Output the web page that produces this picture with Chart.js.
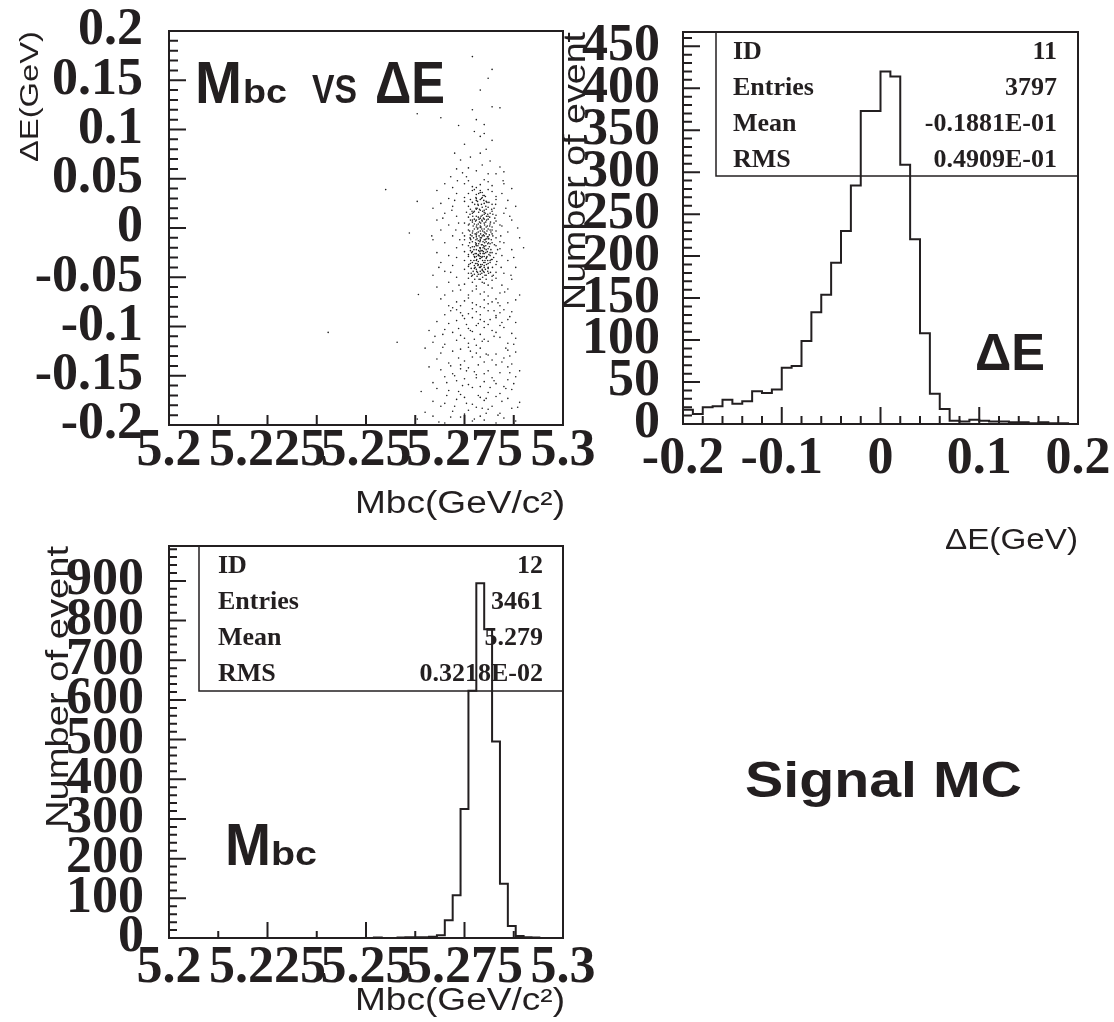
<!DOCTYPE html>
<html><head><meta charset="utf-8">
<script src="https://cdn.jsdelivr.net/npm/chart.js@4.4.1/dist/chart.umd.min.js"></script>
<style>
html,body{margin:0;padding:0;background:#fff;}
body{width:1114px;height:1022px;position:relative;overflow:hidden;}
canvas{position:absolute;left:0;top:0;}
</style></head><body>
<canvas id="cA" width="1114" height="1022"></canvas>
<canvas id="cB" width="1114" height="1022"></canvas>
<canvas id="cC" width="1114" height="1022"></canvas>
<script>
// ---------- DATA ----------
// Scatter: pairs of [Mbc offset from 5.2 GeV in MeV, DeltaE in MeV]
const scatterPairs = [
 // upper sparse region
 77,174, 82,161, 81,152, 84,122, 77,120, 82,123, 63,116, 69,112, 73.5,104, 78,110, 80,96, 79,93, 82,89,
 72.5,76, 74,69, 79,76, 81.5,68, 76,61, 84,62, 71.5,52, 75,85, 80.5,80, 78,58, 83,55, 74.5,56, 77.5,98,
 79.5,64, 81,55, 76.5,72, 73,60, 85,57, 79,140, 80,105, 75.5,52,
 // left halo
 70,45, 68,38, 72,41, 71,30, 69,25, 73,35, 67,20, 72,22, 70,15, 68,8, 73,12, 71,3, 69,-2, 72,-8, 67,-12,
 70,-15, 73,-20, 68,-25, 71,-28, 69,-35, 72,-38, 70,-44, 67,-48, 73,-50, 71,-55, 68,-60, 72,-64, 70,-68,
 73.5,5, 73,-30, 72.5,28, 71.5,-45, 69.5,10, 73.8,-12, 73.2,48, 68.5,-40, 73.6,-58, 72.8,-2, 71.8,18,
 // right halo
 85,45, 87,40, 84.5,35, 86,28, 88,22, 85,15, 87,8, 84.5,2, 86,-4, 89,-10, 85,-15, 87,-22, 84.5,-28, 86,-33,
 88,-40, 85,-46, 87,-52, 84.5,-58, 86,-62, 89,-68, 85.5,20, 84.2,-8, 88.5,0, 86.5,12, 84.3,-40, 87.5,-30,
 90,-20, 84.8,48, 86.8,-48, 85.2,-65,
 // isolated
 55,39, 63,27, 61,-5, 66.7,-8, 40.4,-106, 57.9,-116, 63.3,-67.5,
 // lower tail
 76,-71, 80,-73, 73,-75, 83,-72, 78,-78, 86,-76, 71,-79, 81,-77, 75,-74, 88,-73, 79,-80, 84,-79, 77,-76, 82,-75, 74,-79, 69,-72,
 77,-82, 81,-84, 74,-86, 85,-83, 79,-88, 72,-81, 83,-89, 76,-87, 87,-85, 80,-81, 70,-88, 78,-85, 84,-86, 73,-83,
 75,-92, 80,-95, 83,-91, 71,-97, 78,-99, 86,-93, 73,-94, 81,-98, 77,-91, 88,-96, 68,-95, 84,-99, 79,-93,
 76,-102, 82,-104, 72,-106, 85,-101, 79,-108, 70,-103, 87,-107, 74,-109, 80,-101, 83,-106, 77,-105, 66,-104,
 75,-112, 81,-115, 70,-118, 84,-111, 78,-119, 73,-114, 86,-117, 80,-113, 67,-116, 88,-112, 76,-117,
 79,-122, 72,-125, 83,-128, 76,-121, 86,-124, 69,-127, 81,-129, 74,-123, 88,-126, 78,-127, 65,-122,
 77,-131, 82,-134, 71,-137, 85,-132, 74,-139, 80,-136, 68,-133, 87,-138, 79,-131, 83,-139, 75,-135,
 76,-142, 81,-145, 72,-148, 86,-141, 78,-149, 69,-144, 84,-147, 74,-143, 89,-145, 80,-148, 66,-141,
 78,-152, 73,-155, 83,-158, 70,-151, 86,-154, 76,-159, 80,-156, 67,-157, 88,-151, 75,-153, 82,-152,
 77,-162, 71,-165, 84,-168, 79,-161, 74,-169, 87,-164, 68,-163, 81,-167, 64,-166, 85,-161,
 75,-172, 80,-175, 70,-178, 86,-173, 77,-179, 83,-171, 67,-176, 73,-174, 89,-177, 79,-172,
 78,-182, 72,-186, 84,-188, 69,-181, 81,-184, 75,-189, 87,-183, 65,-187, 76,-185, 82,-181,
 74,-192, 80,-195, 70,-198, 85,-193, 77,-196, 67,-191, 83,-198, 63,-194, 79,-191, 88,-196,
 71.5,-84, 86.5,-90, 75.5,-98, 82.5,-110, 69.5,-121, 87.5,-118, 73.5,-132, 84.5,-136, 77.5,-146, 70.5,-157,
 85.5,-163, 78.5,-170, 72.5,-181, 83.5,-190, 68.5,-197, 80.5,-188, 74.5,-160, 86.5,-147, 76.5,-125, 81.5,-93,
 79.5,-115, 75.5,-178, 82.5,-155, 71.5,-140, 88.5,-182, 67.5,-110, 84.5,-96, 73.5,-102, 80.5,-128, 77.5,-194,
 85.5,-122, 70.5,-170, 78.5,-139, 83.5,-76, 74.5,-89, 81.5,-162, 76.5,-104, 87.5,-158, 72.5,-150, 79.5,-183,
 69.5,-108, 84.5,-176, 75.5,-145, 82.5,-84, 77.5,-113, 80.5,-173, 86.5,-130, 73.5,-166, 78.5,-97, 71.5,-192,
 // dense core
 76,48, 79,44, 81,47, 78,41, 82,43, 75,45, 80,49, 77,42,
 77,38, 80,33, 79,36, 75,31, 82,37, 78,34, 81,39, 76,35, 83,32, 79.5,31, 77.5,39,
 78,28, 80,25, 76,22, 79,29, 82,24, 77,26, 81,21, 75,27, 83,29, 78.5,23, 80.5,27, 79.5,21, 76.5,29, 82.5,20,
 79,18, 77,15, 81,12, 78,19, 80,14, 76,11, 82,17, 79.5,13, 77.5,17, 80.5,19, 75.5,16, 83,13, 78.5,11, 81.5,15, 79,10, 76.5,19, 80,16,
 78,8, 80,5, 79,2, 77,6, 81,9, 76,3, 82,1, 79.5,7, 78.5,4, 80.5,1, 77.5,9, 75,5, 83,7, 79,0.5, 81.5,4, 76.5,8, 78,1, 80,9, 84,3,
 79,-3, 78,-7, 80,-1, 77,-5, 81,-9, 76,-2, 82,-6, 79.5,-8, 78.5,-4, 80.5,-6, 77.5,-1, 75,-8, 83,-3, 79,-10, 81.5,-2, 76.5,-7, 78,-9, 80,-4, 74.5,-5,
 79,-12, 78,-16, 80,-19, 77,-14, 81,-11, 76,-18, 82,-15, 79.5,-17, 78.5,-13, 80.5,-14, 77.5,-19, 75,-12, 83,-18, 79,-20, 81.5,-16, 76.5,-11, 78,-18, 80,-12, 84,-14, 74.5,-17,
 78,-22, 80,-26, 79,-29, 77,-24, 81,-21, 76,-27, 82,-25, 79.5,-23, 78.5,-28, 80.5,-22, 77.5,-29, 75,-24, 83,-26, 79,-21, 81.5,-28, 76.5,-23, 78,-26, 80,-29, 84,-21,
 79,-31, 77,-35, 80,-38, 78,-33, 81,-36, 76,-39, 82,-32, 79.5,-37, 78.5,-34, 80.5,-31, 77.5,-38, 75,-33, 83,-37, 79,-40, 81.5,-33, 76.5,-36,
 78,-42, 80,-45, 77,-48, 79,-44, 81,-41, 76,-46, 82,-49, 79.5,-43, 78.5,-47, 75,-42, 83,-45, 80.5,-48, 77.5,-41,
 79,-52, 77,-55, 81,-58, 76,-51, 80,-56, 78,-59, 82,-53, 75,-57, 83,-51, 79.5,-55,
 78,-62, 80,-65, 76,-68, 82,-61, 79,-67, 74,-63, 81,-69, 77,-64, 84,-66,
 78.2,-11, 79.8,-24, 78.8,6, 80.2,-33, 77.8,-15, 79.2,12, 80.8,-9, 78.4,-38, 79.6,-3, 77.2,2, 81.2,-27, 78.6,16,
 80.4,-18, 79.4,-46, 77.6,-30, 80.6,8, 78.9,-20, 79.1,-6, 81.0,-40, 77.9,20, 80.1,3, 78.1,-44, 79.7,-14, 76.8,-25,
 82.2,-8, 79.3,24, 78.7,-52, 80.9,14, 77.3,-10, 81.3,-19, 78.3,-1, 79.9,-35, 80.3,-12, 77.7,-40, 79.0,-26, 81.6,6,
 78.0,30, 80.7,-3, 76.3,-15, 79.8,10,
 78.3,27, 79.7,33, 80.9,-44, 76.9,-8, 81.8,-12, 77.4,-22, 79.2,-39, 80.4,22, 78.9,-31, 77.1,12, 82.4,-30, 79.6,17,
 78.1,-5, 80.8,-24, 76.6,-33, 81.4,2, 79.3,-17, 78.7,9, 80.2,-48, 77.8,-36, 79.9,28, 81.1,-15, 78.5,-27, 76.2,4,
 82.7,10, 79.4,-1, 77.6,24, 80.6,-37, 78.2,-49, 81.7,-22, 79.1,5, 77.9,-12, 80.3,15, 76.7,-41, 82.1,-40, 79.5,-29,
 78.6,35, 80.0,-8, 77.3,-27, 81.9,19, 79.8,-44, 78.4,-18, 80.7,-29, 76.4,14, 83.4,-22, 79.0,38, 77.7,-6, 81.5,-35,
 78.8,-40, 80.1,-21, 77.0,-19, 79.6,-33, 82.0,-2, 78.0,12, 80.5,-52, 76.0,-29, 81.2,26, 79.3,-10, 78.6,-23, 80.9,-16,
 77.5,4, 79.7,-26, 83.0,-10, 78.2,20, 80.2,-5, 76.8,-49, 81.6,-45, 79.1,-37, 77.9,31, 80.6,-30, 78.4,0, 82.6,-17,
 79.4,8, 77.2,-44, 81.0,-1, 78.9,-14, 80.3,-42, 76.5,-20, 79.9,-18, 78.1,-32, 81.4,11, 77.6,-52, 80.0,18, 79.2,-23,
 82.9,24, 78.7,-8, 76.1,-37, 80.8,2, 79.5,36, 77.4,-33, 81.3,-7, 78.3,-45, 80.4,-25, 79.0,-13, 77.8,7, 82.3,-48,
 78.5,-37, 80.6,12, 76.9,17, 81.8,-32, 79.6,-50, 78.0,-29, 80.1,-15, 77.1,-3, 79.3,30, 81.1,-46, 78.8,19, 76.6,-12,
 80.2,-35, 79.8,-7, 77.5,-47, 82.5,5, 78.6,-16, 80.7,26, 79.2,1, 77.3,16, 81.5,-25, 78.2,-36, 80.0,-40, 76.3,-3,
 79.7,-20, 83.2,-34, 78.9,-24, 80.4,6, 77.7,-26, 81.2,-11, 79.4,-30, 78.1,3, 80.9,-33, 76.7,-46, 82.2,14, 79.0,-47,
 77.9,-17, 80.5,-11, 78.4,24, 81.7,-4, 79.5,-42, 77.0,8, 80.3,32, 78.7,-28, 76.4,-10
];

// DeltaE histogram (ID 11): 40 bins of 0.01 GeV from -0.2
const deLow = -0.2;
const deBinWidth = 0.01;
const deCounts = [17,12,20,21,29,24,27,39,37,41, 67,69,99,133,154,192,230,284,373,373,
                  420,414,309,220,108,36,18,4,3,5, 4,3,3,2,2,1,2,1,1,0];

// Mbc histogram (ID 12): 50 bins of 0.002 GeV from 5.2
const mbcLow = 5.2;
const mbcBinWidth = 0.002;
const mbcCounts = [0,0,0,0,0,0,0,0,0,0, 0,0,0,0,0,0,0,0,0,0, 0,0,0,0,0,0,1,0,0,1,
                   2,2,2,3,7,45,108,325,623,894, 778,495,137,30,5,2,1,0,0,0];

// Tick values and labels
const mbcTickVals = [5.2, 5.225, 5.25, 5.275, 5.3];
const mbcTickLabels = ['5.2', '5.225', '5.25', '5.275', '5.3'];
const deScatTickVals = [0.2, 0.15, 0.1, 0.05, 0, -0.05, -0.1, -0.15, -0.2];
const deScatTickLabels = ['0.2', '0.15', '0.1', '0.05', '0', '-0.05', '-0.1', '-0.15', '-0.2'];
const deHistTickVals = [-0.2, -0.1, 0, 0.1, 0.2];
const deHistTickLabels = ['-0.2', '-0.1', '0', '0.1', '0.2'];
const deCountTickVals = [0, 50, 100, 150, 200, 250, 300, 350, 400, 450];
const deCountTickLabels = ['0', '50', '100', '150', '200', '250', '300', '350', '400', '450'];
const mbcCountTickVals = [0, 100, 200, 300, 400, 500, 600, 700, 800, 900];
const mbcCountTickLabels = ['0', '100', '200', '300', '400', '500', '600', '700', '800', '900'];

const deStats = [['ID', '11'], ['Entries', '3797'], ['Mean', '-0.1881E-01'], ['RMS', '0.4909E-01']];
const mbcStats = [['ID', '12'], ['Entries', '3461'], ['Mean', '5.279'], ['RMS', '0.3218E-02']];

// ---------- HELPERS ----------
const INK = '#231f20';
const SERIF = '"Liberation Serif","Times New Roman",serif';
const SANS = '"Liberation Sans",Arial,sans-serif';

function histPoints(low, width, counts) {
  const pts = [{x: low, y: 0}];
  counts.forEach((c, i) => pts.push({x: low + i * width, y: c}));
  pts.push({x: low + counts.length * width, y: 0});
  return pts;
}

function axis(pos, min, max, vals, labels, pad, size) {
  return {
    type: 'linear', position: pos, min: min, max: max,
    grid: {display: false, drawTicks: false},
    border: {display: false},
    ticks: {
      font: {family: SERIF, weight: 'bold', size: 52, lineHeight: 1},
      color: INK, padding: pad, autoSkip: false, maxRotation: 0, minRotation: 0,
      callback: (v, i) => labels[i]
    },
    afterBuildTicks: s => { s.ticks = vals.map(v => ({value: v})); },
    afterFit: s => {
      if (pos === 'bottom') s.height = size; else s.width = size;
      s.paddingLeft = 0; s.paddingRight = 0; s.paddingTop = 0; s.paddingBottom = 0;
    }
  };
}

function fitText(ctx, text, x, y, w, font, align, rot) {
  ctx.save();
  ctx.font = font;
  const m = ctx.measureText(text).width;
  ctx.translate(x, y);
  if (rot) ctx.rotate(rot);
  ctx.scale(w / m, 1);
  ctx.textAlign = align;
  ctx.textBaseline = 'alphabetic';
  ctx.fillStyle = INK;
  ctx.fillText(text, 0, 0);
  ctx.restore();
}

function frameAndTicks(chart, xt, yt) {
  const ctx = chart.ctx, a = chart.chartArea;
  const sx = chart.scales.x, sy = chart.scales.y;
  ctx.save();
  ctx.strokeStyle = INK;
  ctx.lineWidth = 2;
  ctx.strokeRect(a.left, a.top, a.right - a.left, a.bottom - a.top);
  ctx.beginPath();
  for (let k = xt.k0; k <= xt.k1; k++) {
    const px = sx.getPixelForValue(xt.base + k * xt.step);
    const len = (k % xt.every === 0) ? xt.major : xt.minor;
    ctx.moveTo(px, a.bottom); ctx.lineTo(px, a.bottom - len);
  }
  for (let k = yt.k0; k <= yt.k1; k++) {
    const py = sy.getPixelForValue(yt.base + k * yt.step);
    const len = (k % yt.every === 0) ? yt.major : yt.minor;
    ctx.moveTo(a.left, py); ctx.lineTo(a.left + len, py);
  }
  ctx.stroke();
  ctx.restore();
}

function statsBox(ctx, box, rows) {
  ctx.save();
  ctx.strokeStyle = INK;
  ctx.lineWidth = 1.5;
  ctx.strokeRect(box.l, box.t, box.r - box.l, box.b - box.t);
  ctx.fillStyle = INK;
  ctx.font = 'bold 26px ' + SERIF;
  ctx.textBaseline = 'alphabetic';
  rows.forEach((r, i) => {
    ctx.textAlign = 'left';
    ctx.fillText(r[0], box.tl, box.base[i]);
    ctx.textAlign = 'right';
    ctx.fillText(r[1], box.tr, box.base[i]);
  });
  ctx.restore();
}

const common = {
  responsive: false, animation: false, events: [],
  plugins: {legend: {display: false}, tooltip: {enabled: false}, title: {display: false}}
};

// ---------- CHART A: scatter ----------
const scatterData = [];
for (let i = 0; i < scatterPairs.length; i += 2) {
  scatterData.push({x: mbcLow + scatterPairs[i] / 1000, y: scatterPairs[i + 1] / 1000});
}

new Chart(document.getElementById('cA'), {
  type: 'scatter',
  data: {datasets: [{data: scatterData, pointRadius: 0.8, pointBorderWidth: 0,
    pointBackgroundColor: '#1e1e1e', pointStyle: 'circle'}]},
  options: Object.assign({}, common, {
    layout: {padding: {left: 19, top: 31, right: 551, bottom: 537}},
    scales: {
      x: axis('bottom', 5.2, 5.3, mbcTickVals, mbcTickLabels, 1, 60),
      y: axis('left', -0.2, 0.2, deScatTickVals, deScatTickLabels, 26, 150)
    }
  }),
  plugins: [{
    id: 'deco',
    afterDraw(chart) {
      frameAndTicks(chart,
        {base: 5.2, step: 0.0125, k0: 1, k1: 7, every: 1, major: 10, minor: 10},
        {base: -0.2, step: 0.01, k0: 1, k1: 39, every: 5, major: 17, minor: 9});
      const ctx = chart.ctx;
      fitText(ctx, 'M', 195, 103, 47, 'bold 59px ' + SANS, 'left');
      fitText(ctx, 'bc', 243, 103, 44, 'bold 34px ' + SANS, 'left');
      fitText(ctx, 'VS', 312, 103, 45, 'bold 41px ' + SANS, 'left');
      fitText(ctx, '\u0394E', 375, 103, 70, 'bold 59px ' + SANS, 'left');
      fitText(ctx, '\u0394E(GeV)', 38, 31, 131, '26px ' + SANS, 'right', -Math.PI / 2);
      fitText(ctx, 'Mbc(GeV/c\u00b2)', 565, 513, 210, '31px ' + SANS, 'right');
    }
  }]
});

// ---------- CHART B: DeltaE histogram ----------
new Chart(document.getElementById('cB'), {
  type: 'line',
  data: {datasets: [{data: histPoints(deLow, deBinWidth, deCounts), stepped: 'before',
    borderColor: INK, borderWidth: 2, pointRadius: 0, fill: false, tension: 0}]},
  options: Object.assign({}, common, {
    layout: {padding: {left: 533, top: 32, right: 36, bottom: 538}},
    scales: {
      x: axis('bottom', -0.2, 0.2, deHistTickVals, deHistTickLabels, 10, 60),
      y: axis('left', 0, 467, deCountTickVals, deCountTickLabels, 23, 150)
    }
  }),
  plugins: [{
    id: 'decoB',
    beforeDatasetsDraw(chart) {
      statsBox(chart.ctx, {l: 716, t: 32, r: 1078, b: 176, tl: 733, tr: 1057, base: [59, 95, 131, 167]}, deStats);
    },
    afterDraw(chart) {
      frameAndTicks(chart,
        {base: -0.2, step: 0.02, k0: 1, k1: 19, every: 5, major: 17, minor: 8},
        {base: 0, step: 10, k0: 1, k1: 46, every: 5, major: 17, minor: 9});
      const ctx = chart.ctx;
      fitText(ctx, '\u0394E', 975, 370, 70, 'bold 52px ' + SANS, 'left');
      fitText(ctx, 'Number of event', 585, 32, 278, '31px ' + SANS, 'right', -Math.PI / 2);
      fitText(ctx, '\u0394E(GeV)', 1078, 549, 133, '30px ' + SANS, 'right');
      fitText(ctx, 'Signal MC', 745, 797, 277, 'bold 50px ' + SANS, 'left');
    }
  }]
});

// ---------- CHART C: Mbc histogram ----------
new Chart(document.getElementById('cC'), {
  type: 'line',
  data: {datasets: [{data: histPoints(mbcLow, mbcBinWidth, mbcCounts), stepped: 'before',
    borderColor: INK, borderWidth: 2, pointRadius: 0, fill: false, tension: 0}]},
  options: Object.assign({}, common, {
    layout: {padding: {left: 19, top: 546, right: 551, bottom: 24}},
    scales: {
      x: axis('bottom', 5.2, 5.3, mbcTickVals, mbcTickLabels, 5, 60),
      y: axis('left', 0, 988, mbcCountTickVals, mbcCountTickLabels, 25, 150)
    }
  }),
  plugins: [{
    id: 'decoC',
    beforeDatasetsDraw(chart) {
      statsBox(chart.ctx, {l: 199, t: 546, r: 563, b: 691, tl: 218, tr: 543, base: [573, 609, 645, 681]}, mbcStats);
    },
    afterDraw(chart) {
      frameAndTicks(chart,
        {base: 5.2, step: 0.0125, k0: 1, k1: 7, every: 2, major: 16, minor: 7},
        {base: 0, step: 20, k0: 1, k1: 49, every: 5, major: 17, minor: 8});
      const ctx = chart.ctx;
      fitText(ctx, 'M', 225, 865, 46, 'bold 59px ' + SANS, 'left');
      fitText(ctx, 'bc', 271, 865, 46, 'bold 34px ' + SANS, 'left');
      fitText(ctx, 'Number of event', 68, 546, 282, '31px ' + SANS, 'right', -Math.PI / 2);
      fitText(ctx, 'Mbc(GeV/c\u00b2)', 565, 1010, 210, '31px ' + SANS, 'right');
    }
  }]
});
</script>
</body></html>
